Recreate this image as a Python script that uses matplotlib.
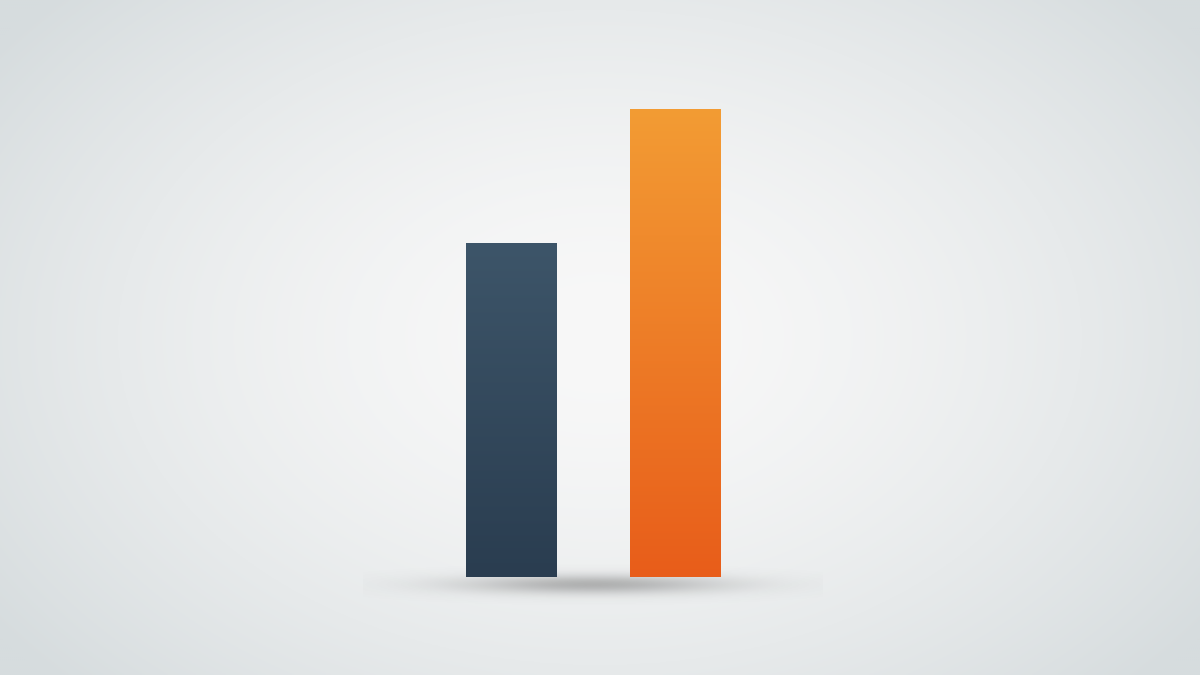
import matplotlib
matplotlib.use("Agg")
import matplotlib.pyplot as plt
import numpy as np
from matplotlib.colors import LinearSegmentedColormap, to_rgb

# data
categories = ["A", "B"]
values = [5.0, 7.0]
top_colors = ["#3d5569", "#f39c34"]
bottom_colors = ["#2a3d50", "#e85d1a"]

fig = plt.figure(figsize=(12, 6.75), dpi=100)
ax = fig.add_axes([0, 0, 1, 1])
ax.set_xlim(-3.116, 4.201)
ax.set_ylim(-1.466, 8.63)
ax.axis("off")

x0, x1 = ax.get_xlim()
y0, y1 = ax.get_ylim()

# radial background
gx, gy = np.meshgrid(np.linspace(0, 1, 600), np.linspace(0, 1, 340))
r = np.sqrt(((gx - 0.5) / 0.62) ** 2 + ((gy - 0.5) / 0.75) ** 2)
r = np.clip(r, 0, 1)
c_in = np.array(to_rgb("#f8f8f8"))
c_out = np.array(to_rgb("#d6dcde"))
bg = c_in + (c_out - c_in) * (r[..., None] ** 1.6)
ax.imshow(bg, extent=(x0, x1, y0, y1), origin="lower", aspect="auto", zorder=0)

# soft shadow under the bars
sx, sy = np.meshgrid(np.linspace(-1, 1, 400), np.linspace(-1, 1, 120))
shade = np.exp(-(sx ** 2) * 3.0 - (sy ** 2) * 7)
shadow = np.zeros((120, 400, 4))
shadow[..., :3] = 0.4
shadow[..., 3] = shade * 0.45
ax.imshow(shadow, extent=(-0.9, 1.9, -0.5, 0.25), origin="lower",
          aspect="auto", zorder=1)

width = 0.549
bars = ax.bar(range(len(categories)), values, width=width, zorder=2,
              color="none", linewidth=0)
for b, v, ct, cb in zip(bars, values, top_colors, bottom_colors):
    cmap = LinearSegmentedColormap.from_list("g", [cb, ct])
    grad = np.linspace(0, 1, 256).reshape(-1, 1)
    bx = b.get_x()
    im = ax.imshow(grad, cmap=cmap, extent=(bx, bx + width, 0, v),
                   origin="lower", aspect="auto", zorder=3)
    im.set_clip_path(b)

fig.savefig("out.png", dpi=100)
